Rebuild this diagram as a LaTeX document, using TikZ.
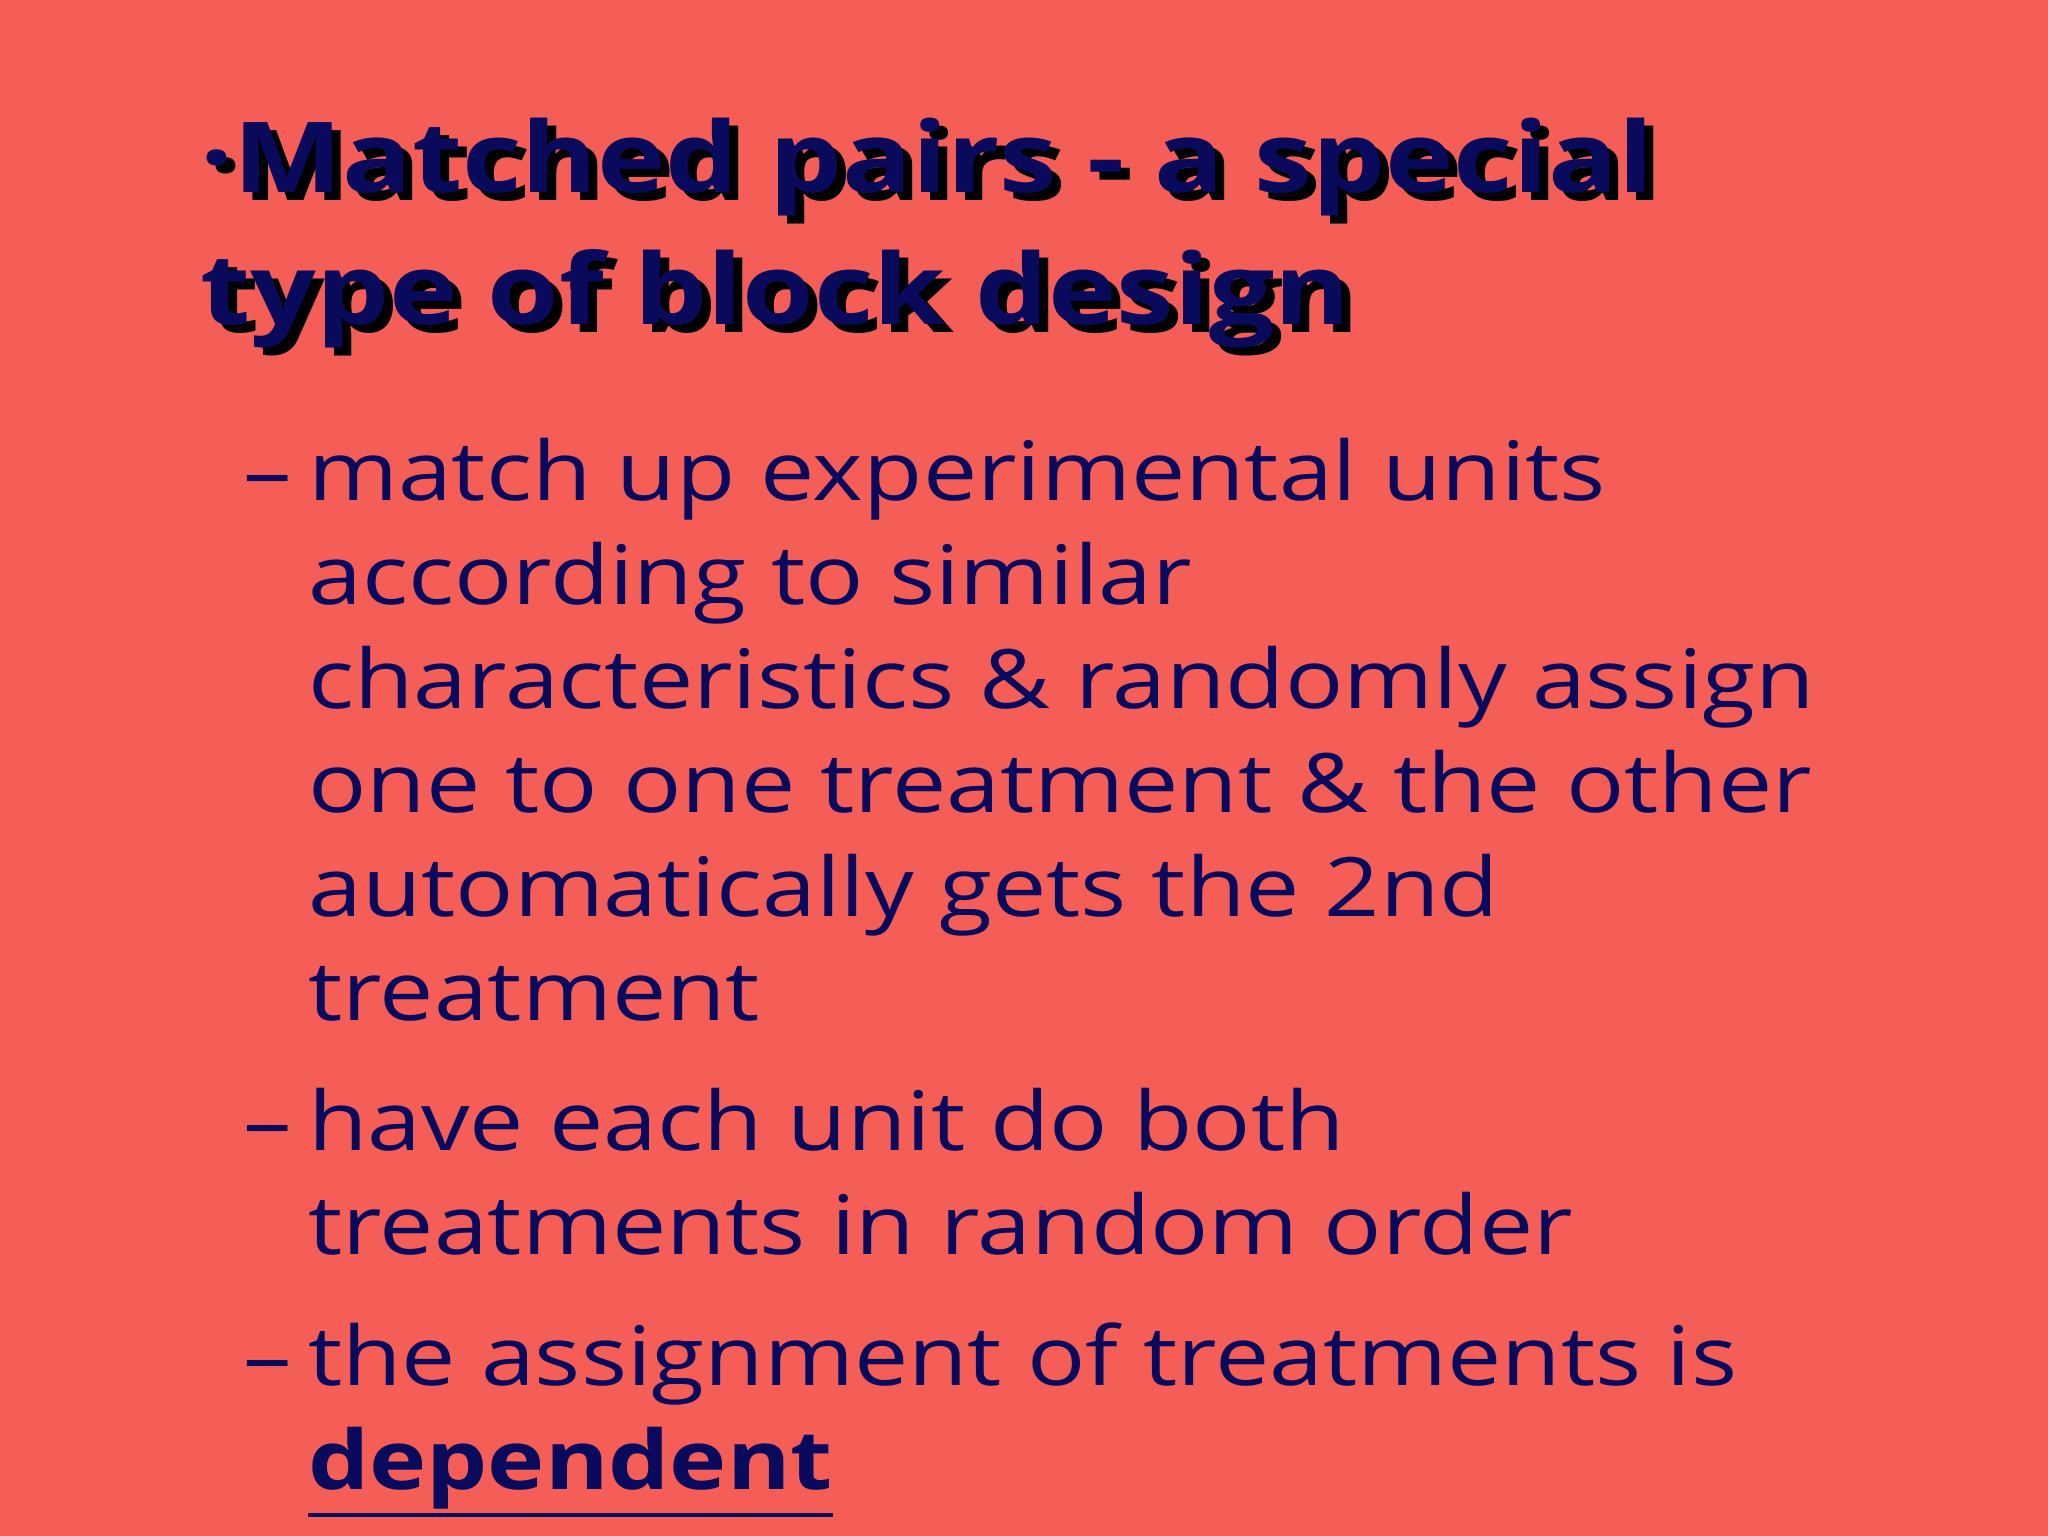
\documentclass[tikz,border=0pt]{standalone}
\usepackage{fontspec}
\setmainfont{Open Sans}[FakeStretch=1.18]
\definecolor{bg}{HTML}{F45E56}
\definecolor{ink}{HTML}{0A0A5C}
\begin{document}
\begin{tikzpicture}[x=1pt,y=-1pt,
  body/.style={anchor=base west,inner sep=0pt,text=ink,font=\fontsize{82}{96}\selectfont},
  dashmark/.style={anchor=base west,inner sep=0pt,text=ink,font=\fontsize{82}{96}\selectfont},
  ttl/.style={anchor=base west,inner sep=0pt,text=ink,font=\fontsize{98}{110}\selectfont\bfseries},
  shd/.style={anchor=base west,inner sep=0pt,text=black,font=\fontsize{98}{110}\selectfont\bfseries}]
\fill[bg] (0,0) rectangle (2048,1536);
\useasboundingbox (0,0) rectangle (2048,1536);
\node[shd] (s1) at (209,200) {\textperiodcentered Matched pairs - a special};
\node[shd] (s2) at (209,332) {type of block design};
\node[ttl] (t1) at (200,192) {\textperiodcentered Matched pairs - a special};
\node[ttl] (t2) at (200,324) {type of block design};
\node[dashmark] (d1) at (243,500) {–};
\node[dashmark] (d2) at (243,1150) {–};
\node[dashmark] (d3) at (243,1385) {–};
\node[body] (l1) at (308,500) {match up experimental units};
\node[body] (l2) at (308,604) {according to similar};
\node[body] (l3) at (308,708) {characteristics \& randomly assign};
\node[body] (l4) at (308,812) {one to one treatment \& the other};
\node[body] (l5) at (308,916) {automatically gets the 2nd};
\node[body] (l6) at (308,1020) {treatment};
\node[body] (l7) at (308,1150) {have each unit do both};
\node[body] (l8) at (308,1254) {treatments in random order};
\node[body] (l9) at (308,1385) {the assignment of treatments is};
\node[body,font=\fontsize{82}{96}\selectfont\bfseries] (l10) at (308,1489) {dependent};
\draw[ink,line width=4pt] ([yshift=-6pt]l10.south west) -- ([yshift=-6pt]l10.south east);
\end{tikzpicture}
\end{document}
